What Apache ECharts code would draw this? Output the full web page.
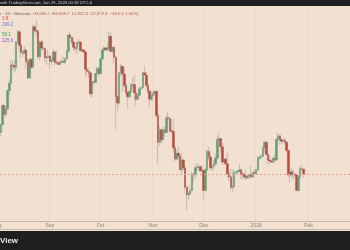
<!DOCTYPE html>
<html><head><meta charset="utf-8">
<script src="https://cdn.jsdelivr.net/npm/echarts@6/dist/echarts.min.js"></script>
<style>html,body{margin:0;padding:0;background:#f2e0d0;}#c{width:350px;height:250px;}</style>
</head><body><div id="c"></div>
<script>
// ---- data ----
const startDate = '2025-08-03';
const totalDays = 207; // category slots, Aug 3 2025 .. Feb 25 2026
const tickDates = ['2025-09-01','2025-10-01','2025-11-01','2025-12-01','2026-01-01','2026-02-01'];
const tickLabels = ['Sep','Oct','Nov','Dec','2026','Feb'];

const open = [
 3400,3490,3720,3610,3680,3910,4010,4260,4250,4230,4600,4760,4550,4440,4430,4480,4310,4080,4340,4230,4840,4780,4770,4380,4600,4510,4500,4370,4365,
 4390,4310,4320,4450,4300,4290,4270,4300,4310,4300,4350,4460,4710,4670,4600,4520,4500,4590,4600,4470,4480,4450,4200,4170,4150,3870,4030,4020,4140,4210,
 4140,4350,4480,4510,4480,4510,4690,4460,4520,4370,3830,3750,4150,4240,4130,3980,3890,3830,3900,3980,3990,3880,3800,3850,3930,3950,4150,4120,3980,3900,3800,
 3850,3870,3900,3600,3290,3430,3320,3430,3400,3570,3560,3420,3410,3230,3110,3170,3140,3000,3100,3020,2830,2760,2770,2800,2950,2960,3020,3025,3030,2990,
 2995,2800,3000,3190,3130,3020,3040,3060,3120,3320,3330,3240,3080,3110,3060,2960,2930,2830,2840,2970,2980,2985,3000,2960,2950,2930,2920,2940,2950,2930,2970,
 2965,3000,3120,3130,3140,3230,3290,3160,3100,3090,3080,3120,3100,3320,3360,3320,3300,3310,3290,3200,2950,2980,2950,2955,2950,2800,2930,3010,3006.3
];
const high = [
 3500,3740,3730,3720,3930,4070,4320,4330,4330,4620,4790,4780,4680,4480,4540,4490,4360,4360,4360,4880,4880,4956,4790,4620,4640,4620,4520,4390,4480,
 4400,4360,4490,4460,4480,4310,4320,4370,4380,4370,4480,4720,4770,4680,4650,4530,4600,4650,4600,4500,4490,4460,4230,4220,4160,4040,4040,4150,4240,4230,
 4360,4510,4540,4520,4580,4760,4750,4530,4530,4390,3860,4170,4280,4250,4210,4080,3900,3910,4010,4090,4120,3900,3880,3960,3960,4160,4250,4160,4030,3920,3900,
 3890,3920,3910,3630,3470,3440,3460,3470,3600,3650,3590,3560,3560,3250,3200,3240,3180,3170,3120,3050,2850,2790,2850,2980,2970,3040,3070,3060,3040,3050,
 3000,3020,3210,3240,3170,3060,3100,3160,3360,3390,3330,3280,3130,3120,3180,2970,3010,3000,3000,2990,3000,3060,3010,2980,2970,3000,2950,2960,3040,2990,3000,
 3010,3140,3140,3160,3250,3310,3300,3180,3150,3100,3130,3160,3340,3400,3380,3330,3320,3340,3300,3210,3040,3020,3000,2970,2960,2950,3040,3050,3008.7
];
const low = [
 3360,3480,3560,3580,3660,3860,4000,4180,4160,4180,4570,4460,4360,4380,4420,4210,4060,4080,4200,4230,4730,4690,4350,4330,4480,4460,4300,4260,4360,
 4210,4260,4300,4260,4280,4260,4250,4290,4290,4270,4340,4440,4650,4560,4470,4460,4420,4560,4450,4450,4440,4080,4120,4080,3830,3820,3990,4010,4090,4100,
 4130,4330,4440,4460,4460,4500,4440,4440,4280,3435,3650,3710,4100,3900,3940,3860,3680,3820,3860,3930,3780,3710,3780,3840,3910,3940,4110,3940,3870,3700,3780,
 3840,3850,3570,3055,3250,3280,3300,3350,3390,3540,3400,3390,3180,3080,3110,3090,2990,2950,2990,2790,2620,2710,2750,2780,2880,2920,3000,2990,2980,2980,
 2720,2790,2990,3100,3000,2990,2990,3040,3100,3300,3180,3050,3070,3050,2930,2890,2800,2780,2820,2960,2950,2970,2910,2900,2910,2900,2910,2920,2910,2920,2950,
 2960,2990,3090,3110,3130,3180,3150,3060,3060,3070,3070,3070,3090,3300,3260,3270,3290,3260,3180,2930,2880,2920,2900,2930,2790,2790,2900,2990,2922.5
];
const close = [
 3490,3720,3610,3680,3910,4010,4260,4250,4230,4600,4760,4550,4440,4430,4480,4310,4080,4340,4230,4840,4780,4770,4380,4600,4510,4500,4370,4365,4390,
 4310,4320,4450,4300,4290,4270,4300,4310,4300,4350,4460,4710,4670,4600,4520,4500,4590,4600,4470,4480,4450,4200,4170,4150,3870,4030,4020,4140,4210,4140,
 4350,4480,4510,4480,4510,4690,4460,4520,4370,3830,3750,4150,4240,4130,3980,3890,3830,3900,3980,3990,3880,3800,3850,3930,3950,4150,4120,3980,3900,3800,3850,
 3870,3900,3600,3290,3430,3320,3430,3400,3570,3560,3420,3410,3230,3110,3170,3140,3000,3100,3020,2830,2760,2770,2800,2950,2960,3020,3025,3030,2990,2995,
 2800,3000,3190,3130,3020,3040,3060,3120,3320,3330,3240,3080,3110,3060,2960,2930,2830,2840,2970,2980,2985,3000,2960,2950,2930,2920,2940,2950,2930,2970,2965,
 3000,3120,3130,3140,3230,3290,3160,3100,3090,3080,3120,3100,3320,3360,3320,3300,3310,3290,3200,2950,2980,2950,2955,2950,2800,2930,3010,3007.3,2959.3
];
const lastPrice = 2959.3;
const headerText = 'with TradingView.com, Jan 29, 2026 00:18 UTC-6';
const indicatorValues = ['3.8','299.2','58.1','225.6'];

// ---- build ----
const dates = [];
const d0 = new Date(startDate + 'T00:00:00Z');
for (let i = 0; i < totalDays; i++) {
  dates.push(new Date(d0.getTime() + i * 86400000).toISOString().slice(0, 10));
}
const full = open.map((o, i) => [o, close[i], low[i], high[i]]);
const bodies = open.map((o, i) => [o, close[i], Math.min(o, close[i]), Math.max(o, close[i])]);
const isTick = (idx, v) => tickDates.indexOf(v) >= 0;

const GREEN = '#5f9f78', RED = '#b94a3e', WICK = '#cbc0b5';
const FONT = 'Liberation Sans, Arial, sans-serif';

const chart = echarts.init(document.getElementById('c'), null, {renderer: 'canvas'});
chart.setOption({
  animation: false,
  backgroundColor: '#f2e0d0',
  grid: {left: 0, right: 0, top: 8, bottom: 29},
  xAxis: {
    type: 'category', data: dates, boundaryGap: true,
    axisLine: {show: true, lineStyle: {color: '#c5b9ad', width: 1}},
    axisTick: {show: false},
    axisLabel: {interval: isTick, formatter: v => tickLabels[tickDates.indexOf(v)],
      fontSize: 5, color: '#8c8178', margin: 2, fontFamily: FONT},
    splitLine: {show: true, interval: isTick, lineStyle: {color: '#eadacb', width: 1}}
  },
  yAxis: {
    type: 'log', min: 2528, max: 5155, scale: true,
    axisLine: {show: false}, axisTick: {show: false}, axisLabel: {show: false}, splitLine: {show: false}
  },
  series: [
    {
      type: 'candlestick', data: full, barWidth: 1.5, silent: true,
      itemStyle: {color: WICK, color0: WICK, borderColor: WICK, borderColor0: WICK, borderWidth: 1.2}
    },
    {
      type: 'candlestick', data: bodies, barWidth: 2, silent: true,
      itemStyle: {color: GREEN, color0: RED, borderColor: GREEN, borderColor0: RED, borderWidth: 0.4},
      markLine: {
        silent: true, symbol: ['none', 'none'], label: {show: false},
        lineStyle: {type: [2, 2], color: '#e8a18e', width: 1},
        data: [{yAxis: lastPrice}]
      }
    }
  ],
  graphic: [
    {type: 'rect', shape: {x: 0, y: 0, width: 350, height: 6}, style: {fill: '#1f1f1f'}},
    {type: 'text', x: 0, y: 3.3, style: {text: headerText, fontSize: 4.2, fill: '#c8c8c8', fontFamily: FONT, verticalAlign: 'middle'}},
    {type: 'text', x: 0, y: 14, style: {
      text: '{g|r · 1D · Bitstamp}  {g|O}{v|3,006.3}  {g|H}{v|3,008.7}  {g|L}{v|2,922.5}  {g|C}{v|2,959.3}  {v|−48.0 (−1.60%)}',
      fontSize: 4.2, fontFamily: FONT, verticalAlign: 'middle',
      rich: {g: {fill: '#6d655e', fontSize: 4.2, fontFamily: FONT}, v: {fill: '#c0564a', fontSize: 4.2, fontFamily: FONT}}
    }},
    {type: 'text', x: 2, y: 19, style: {text: indicatorValues[0], fontSize: 4.5, fill: '#d9534f', fontFamily: FONT, verticalAlign: 'middle'}},
    {type: 'text', x: 2, y: 24.3, style: {text: indicatorValues[1], fontSize: 4.5, fill: '#5b7fd6', fontFamily: FONT, verticalAlign: 'middle'}},
    {type: 'text', x: 2, y: 34.7, style: {text: indicatorValues[2], fontSize: 4.5, fill: '#3f9a6c', fontFamily: FONT, verticalAlign: 'middle'}},
    {type: 'text', x: 2, y: 40.3, style: {text: indicatorValues[3], fontSize: 4.5, fill: '#8e63c7', fontFamily: FONT, verticalAlign: 'middle'}},
    {type: 'text', x: -3, y: 225.5, style: {text: 'Aug', fontSize: 5, fill: '#8c8178', fontFamily: FONT, align: 'center', verticalAlign: 'middle'}},
    {type: 'rect', shape: {x: 0, y: 229, width: 350, height: 1}, style: {fill: '#c5b9ad'}},
    {type: 'rect', shape: {x: 0, y: 231, width: 350, height: 19}, style: {fill: '#1f1f1f'}},
    {type: 'text', x: 0, y: 240.5, style: {text: 'View', fontSize: 8, fontWeight: 'bold', fill: '#e8e8e8', fontFamily: FONT, verticalAlign: 'middle'}}
  ]
});
</script>
</body></html>
